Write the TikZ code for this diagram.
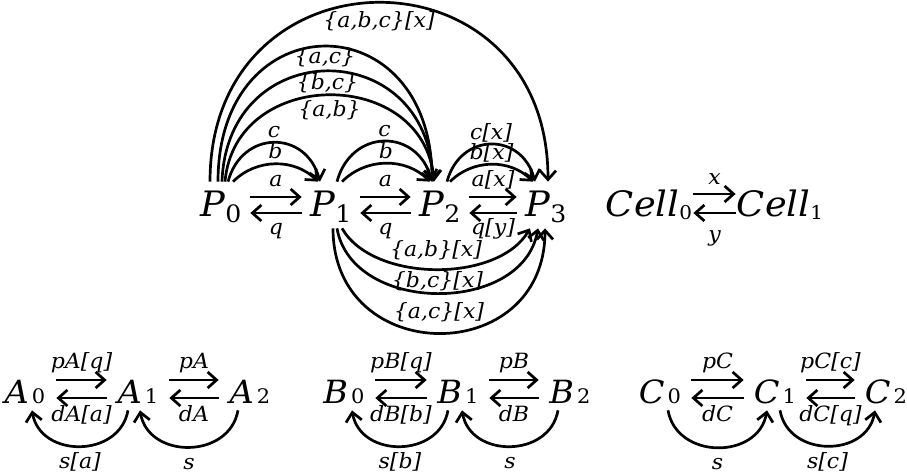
\documentclass[tikz,border=0pt]{standalone}
\usepackage{fontspec}
\setmainfont{DejaVu Serif}[FakeStretch=1.05]
\usetikzlibrary{arrows.meta}

\newcommand{\pnode}[2]{{\fontsize{35}{35}\selectfont\itshape #1}\raisebox{-6pt}{\fontsize{24}{24}\selectfont #2}}
\newcommand{\cnode}[2]{{\fontsize{35}{35}\selectfont\itshape #1}\raisebox{-3pt}{\fontsize{19}{19}\selectfont #2}}
\newcommand{\rnode}[2]{{\fontsize{32}{32}\selectfont\itshape #1}\hspace{3pt}{\fontsize{20}{20}\selectfont #2}}
\newcommand{\lblfont}{\fontsize{21}{21}\selectfont\itshape}

\begin{document}
\begin{tikzpicture}[
  x=1pt, y=1pt,
  st/.style={inner sep=0pt, minimum width=56pt, text height=34pt, text depth=10pt},
  sb/.style={inner sep=0pt, minimum width=60pt, text height=28pt, text depth=6pt},
  lbl/.style={font=\lblfont, inner sep=1pt, text height=15pt, text depth=4pt},
  >={Straight Barb[length=9pt,width=16pt]}, line width=2.7pt
]
  \useasboundingbox (0,0) rectangle (907,474);

  % top row
  \node[st] (P0) at (221,269) {\pnode{P}{0}};
  \node[st] (P1) at (331,269) {\pnode{P}{1}};
  \node[st] (P2) at (440,269) {\pnode{P}{2}};
  \node[st] (P3) at (546,269) {\pnode{P}{3}};
  \node[st, minimum width=0pt] (Cell0) at (649,269) {\cnode{Cell}{0}};
  \node[st, minimum width=0pt] (Cell1) at (780,269) {\cnode{Cell}{1}};

  % bottom row
  \node[sb] (A0) at (25,82)  {\rnode{A}{0}};
  \node[sb] (A1) at (138,82) {\rnode{A}{1}};
  \node[sb] (A2) at (250,82) {\rnode{A}{2}};
  \node[sb] (B0) at (344,82) {\rnode{B}{0}};
  \node[sb] (B1) at (458,82) {\rnode{B}{1}};
  \node[sb] (B2) at (570,82) {\rnode{B}{2}};
  \node[sb] (C0) at (660,82) {\rnode{C}{0}};
  \node[sb] (C1) at (775,82) {\rnode{C}{1}};
  \node[sb] (C2) at (886,82) {\rnode{C}{2}};

  % P0 - P1
  \draw[->] ([yshift=8]P0.east) -- node[lbl,above=4pt]{a} ([yshift=8]P1.west);
  \draw[->] ([yshift=-8]P1.west) -- node[lbl,below=4pt]{q} ([yshift=-8]P0.east);
  \draw[->] ([xshift=12]P0.north) to[out=45,in=135] node[lbl,above=-1pt]{b} ([xshift=-13]P1.north);
  \draw[->] ([xshift=7]P0.north) to[out=75,in=105,looseness=1.5] node[lbl,above=-1pt]{c} ([xshift=-11]P1.north);

  % P1 - P2
  \draw[->] ([yshift=8]P1.east) -- node[lbl,above=4pt]{a} ([yshift=8]P2.west);
  \draw[->] ([yshift=-8]P2.west) -- node[lbl,below=4pt]{q} ([yshift=-8]P1.east);
  \draw[->] ([xshift=11]P1.north) to[out=45,in=135] node[lbl,above=-1pt]{b} ([xshift=-10]P2.north);
  \draw[->] ([xshift=6]P1.north) to[out=75,in=105,looseness=1.5] node[lbl,above=-1pt]{c} ([xshift=-8]P2.north);

  % P2 - P3
  \draw[->] ([yshift=8]P2.east) -- node[lbl,above=4pt]{a[x]} ([yshift=8]P3.west);
  \draw[->] ([yshift=-8]P3.west) -- node[lbl,below=4pt]{q[y]} ([yshift=-8]P2.east);
  \draw[->] ([xshift=10]P2.north) to[out=45,in=135] node[lbl,above=-1pt]{b[x]} ([xshift=-13]P3.north);
  \draw[->] ([xshift=7]P2.north) to[out=75,in=105,looseness=1.5] node[lbl,above=-1pt]{c[x]} ([xshift=-11]P3.north);

  % P0 - P2, P0 - P3
  \draw[->] ([xshift=4]P0.north) to[out=85,in=95,looseness=1.42] node[lbl,below=4pt]{\{a,b\}} ([xshift=-6]P2.north);
  \draw[->] ([xshift=1]P0.north) to[out=88,in=92,looseness=1.79] node[lbl,below=1pt]{\{b,c\}} ([xshift=-7]P2.north);
  \draw[->] ([xshift=-3]P0.north) to[out=90,in=90,looseness=2.16] node[lbl,below=0pt]{\{a,c\}} ([xshift=-8]P2.north);
  \draw[->] ([xshift=-11]P0.north) to[out=90,in=90,looseness=1.81] node[lbl,below=7pt]{\{a,b,c\}[x]} ([xshift=2]P3.north);

  % P1 - P3 underneath
  \draw[->] ([xshift=11]P1.south) to[out=-60,in=-120,looseness=0.86] node[lbl,above=6pt]{\{a,b\}[x]} ([xshift=-16]P3.south);
  \draw[->] ([xshift=6]P1.south) to[out=-80,in=-100,looseness=1.12] node[lbl,above=-1pt]{\{b,c\}[x]} ([xshift=-8]P3.south);
  \draw[->] ([xshift=2]P1.south) to[out=-90,in=-90,looseness=1.69] node[lbl,above=8pt]{\{a,c\}[x]} ([xshift=-1]P3.south);

  % Cell
  \draw[->] ([yshift=11]Cell0.east) -- node[lbl,above=3pt]{x} ([yshift=11]Cell1.west);
  \draw[->] ([yshift=-8]Cell1.west) -- node[lbl,below=11pt]{y} ([yshift=-8]Cell0.east);

  % A
  \draw[->] ([yshift=12]A0.east) -- node[lbl,above=5pt]{pA[q]} ([yshift=12]A1.west);
  \draw[->] ([yshift=-6]A1.west) -- node[lbl,below=6pt]{dA[a]} ([yshift=-6]A0.east);
  \draw[->] ([yshift=12]A1.east) -- node[lbl,above=5pt]{pA} ([yshift=12]A2.west);
  \draw[->] ([yshift=-6]A2.west) -- node[lbl,below=6pt]{dA} ([yshift=-6]A1.east);
  \draw[->] ([xshift=-10]A1.south) to[out=-100,in=-80,looseness=1.3] node[lbl,below=5pt]{s[a]} ([xshift=7]A0.south);
  \draw[->] ([xshift=-12]A2.south) to[out=-100,in=-80,looseness=1.3] node[lbl,below=5pt]{s} ([xshift=2]A1.south);

  % B
  \draw[->] ([yshift=12]B0.east) -- node[lbl,above=5pt]{pB[q]} ([yshift=12]B1.west);
  \draw[->] ([yshift=-6]B1.west) -- node[lbl,below=6pt]{dB[b]} ([yshift=-6]B0.east);
  \draw[->] ([yshift=12]B1.east) -- node[lbl,above=5pt]{pB} ([yshift=12]B2.west);
  \draw[->] ([yshift=-6]B2.west) -- node[lbl,below=6pt]{dB} ([yshift=-6]B1.east);
  \draw[->] ([xshift=-10]B1.south) to[out=-100,in=-80,looseness=1.3] node[lbl,below=5pt]{s[b]} ([xshift=8]B0.south);
  \draw[->] ([xshift=-12]B2.south) to[out=-100,in=-80,looseness=1.3] node[lbl,below=5pt]{s} ([xshift=4]B1.south);

  % C
  \draw[->] ([yshift=12]C0.east) -- node[lbl,above=5pt]{pC} ([yshift=12]C1.west);
  \draw[->] ([yshift=-6]C1.west) -- node[lbl,below=6pt]{dC} ([yshift=-6]C0.east);
  \draw[->] ([yshift=12]C1.east) -- node[lbl,above=5pt]{pC[c]} ([yshift=12]C2.west);
  \draw[->] ([yshift=-6]C2.west) -- node[lbl,below=6pt]{dC[q]} ([yshift=-6]C1.east);
  \draw[->] ([xshift=8]C0.south) to[out=-80,in=-100,looseness=1.3] node[lbl,below=5pt]{s} ([xshift=-8]C1.south);
  \draw[->] ([xshift=5]C1.south) to[out=-80,in=-100,looseness=1.3] node[lbl,below=5pt]{s[c]} ([xshift=-11]C2.south);
\end{tikzpicture}
\end{document}
